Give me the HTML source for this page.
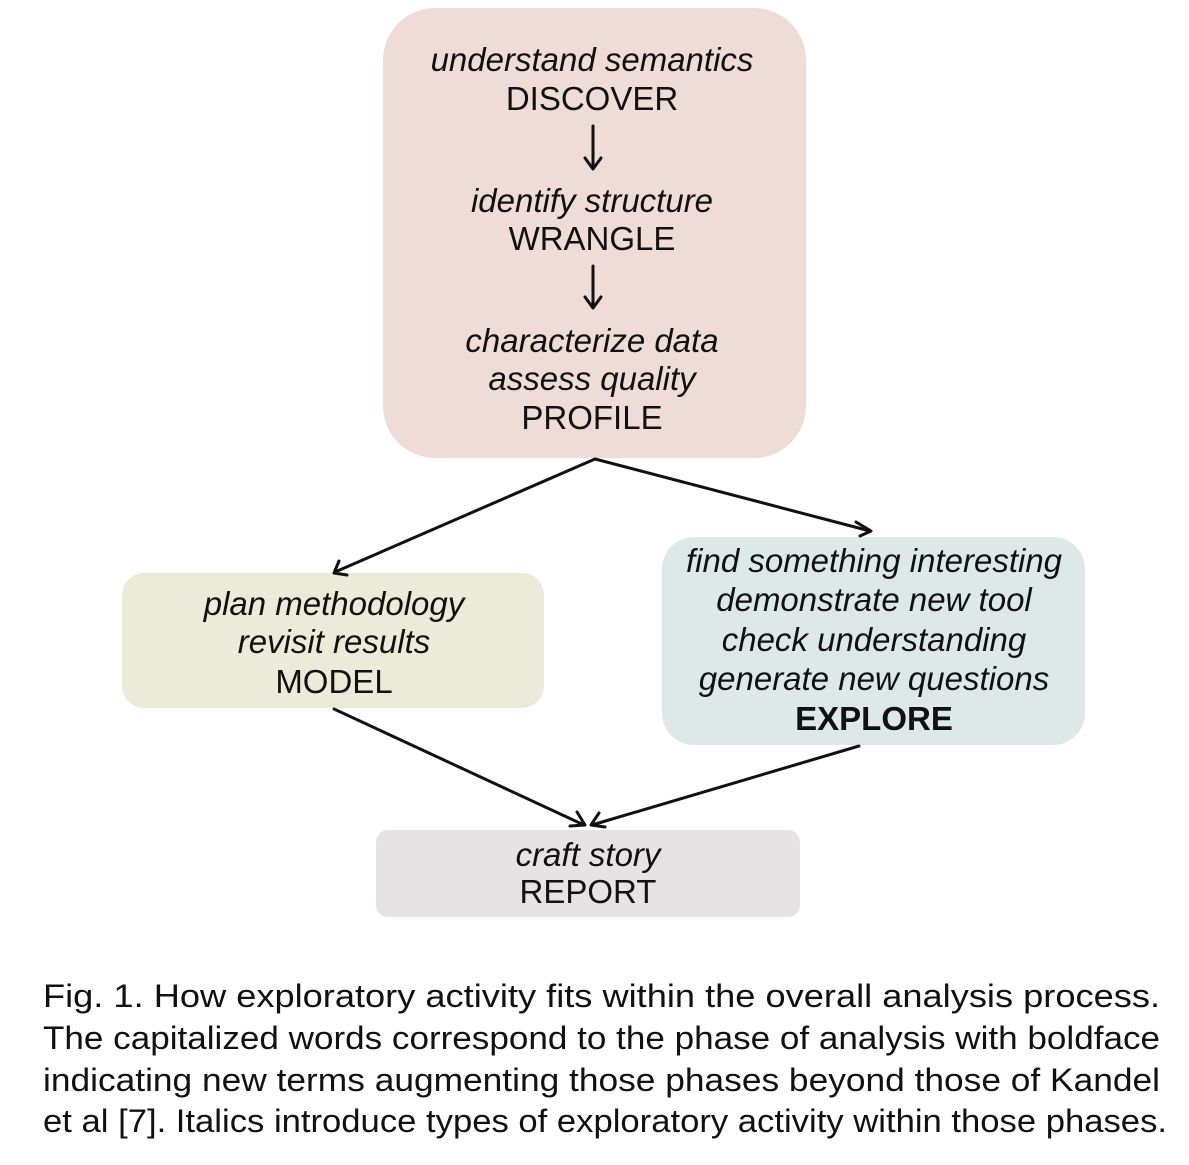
<!DOCTYPE html>
<html><head><meta charset="utf-8"><style>
html,body{margin:0;padding:0;background:#fff;}
svg{display:block;}
text{font-family:"Liberation Sans",Arial,sans-serif;fill:#111;}
.i{font-style:italic;}
</style></head><body>
<svg width="1189" height="1165" viewBox="0 0 1189 1165" xmlns="http://www.w3.org/2000/svg">
<rect x="383" y="8" width="423" height="450" rx="52" fill="#f0dcd6"/>
<rect x="122" y="573" width="422" height="135" rx="22" fill="#ecebda"/>
<rect x="662" y="537" width="423" height="208" rx="32" fill="#dde9e9"/>
<rect x="376" y="830" width="424" height="87" rx="12" fill="#e5e3e4"/>

<g font-size="33" text-anchor="middle">
<text class="i" x="592" y="71">understand semantics</text>
<text x="592" y="110">DISCOVER</text>
<text class="i" x="592" y="212">identify structure</text>
<text x="592" y="250">WRANGLE</text>
<text class="i" x="592" y="352">characterize data</text>
<text class="i" x="592" y="390">assess quality</text>
<text x="592" y="429">PROFILE</text>

<text class="i" x="334" y="615">plan methodology</text>
<text class="i" x="334" y="653">revisit results</text>
<text x="334" y="693">MODEL</text>

<text class="i" x="874" y="572">find something interesting</text>
<text class="i" x="874" y="611">demonstrate new tool</text>
<text class="i" x="874" y="651">check understanding</text>
<text class="i" x="874" y="690">generate new questions</text>
<text x="874" y="730" font-weight="bold">EXPLORE</text>

<text class="i" x="588" y="866">craft story</text>
<text x="588" y="903">REPORT</text>
</g>

<g stroke="#111" stroke-width="3" fill="none" stroke-linecap="round" stroke-linejoin="round">
<line x1="593" y1="126" x2="593" y2="168"/>
<polyline points="585,158 593,169 601,158"/>
<line x1="593" y1="266" x2="593" y2="307"/>
<polyline points="585,297 593,308 601,297"/>

<line x1="595" y1="459" x2="335" y2="572"/>
<polyline points="339,561 334,573 347,575"/>
<line x1="595" y1="459" x2="870" y2="531"/>
<polyline points="856,522 871,531 860,536"/>
<line x1="334" y1="709" x2="584" y2="825"/>
<polyline points="577,812 585,825 570,826"/>
<line x1="859" y1="746" x2="592" y2="825"/>
<polyline points="599,813 591,825 605,827"/>
</g>

<g font-size="32">
<text x="43" y="1007" textLength="1117" lengthAdjust="spacingAndGlyphs">Fig. 1. How exploratory activity fits within the overall analysis process.</text>
<text x="43" y="1049" textLength="1117" lengthAdjust="spacingAndGlyphs">The capitalized words correspond to the phase of analysis with boldface</text>
<text x="43" y="1091" textLength="1117" lengthAdjust="spacingAndGlyphs">indicating new terms augmenting those phases beyond those of Kandel</text>
<text x="43" y="1132" textLength="1124" lengthAdjust="spacingAndGlyphs">et al [7]. Italics introduce types of exploratory activity within those phases.</text>
</g>
</svg>
</body></html>
